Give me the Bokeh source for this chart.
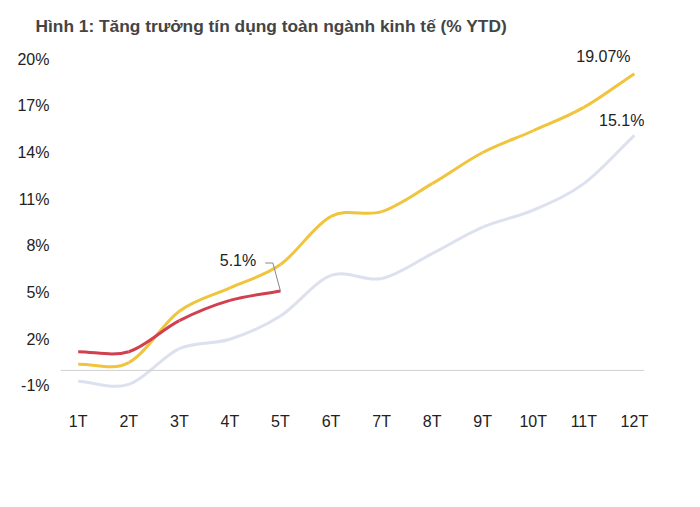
from bokeh.plotting import figure
from bokeh.models import Range1d, FixedTicker, Span, Legend, LegendItem, Label
from bokeh.embed import file_html
from bokeh.resources import INLINE

months = ["1T","2T","3T","4T","5T","6T","7T","8T","9T","10T","11T","12T"]
y2024 = [-0.7,-0.9,1.4,2.0,3.5,6.1,5.9,7.5,9.2,10.3,12.0,15.1]
y2025 = [0.4,0.5,3.8,5.3,6.8,9.9,10.2,12.0,14.0,15.4,16.9,19.07]
y2026 = [1.2,1.2,3.2,4.5,5.1]
yticks = [-1,2,5,8,11,14,17,20]
FONT = "Liberation Sans"

def bez(xs, ys):
    n = len(xs); m = [0.0]*n
    for i in range(n):
        if i == 0: m[i] = ys[1]-ys[0]
        elif i == n-1: m[i] = ys[-1]-ys[-2]
        else: m[i] = (ys[i+1]-ys[i-1])/2
    out = dict(x0=[],y0=[],x1=[],y1=[],cx0=[],cy0=[],cx1=[],cy1=[])
    for i in range(n-1):
        out["x0"].append(xs[i]); out["y0"].append(ys[i])
        out["x1"].append(xs[i+1]); out["y1"].append(ys[i+1])
        out["cx0"].append(xs[i]+1/3); out["cy0"].append(ys[i]+m[i]/3)
        out["cx1"].append(xs[i+1]-1/3); out["cy1"].append(ys[i+1]-m[i+1]/3)
    return out

p = figure(width=684, height=491, output_backend="svg", toolbar_location=None,
           x_range=Range1d(0.65, 12.2), y_range=Range1d(-2.0, 21.2),
           min_border_left=60, min_border_right=40, min_border_top=40, min_border_bottom=90,
           title="Hình 1: Tăng trưởng tín dụng toàn ngành kinh tế (% YTD)")
p.title.text_font = FONT
p.title.text_font_size = "13pt"
p.title.text_font_style = "bold"
p.title.offset = -25
p.outline_line_color = None
p.grid.visible = False
p.xaxis.ticker = FixedTicker(ticks=list(range(1,13)))
p.xaxis.major_label_overrides = {i+1: m for i, m in enumerate(months)}
p.yaxis.ticker = FixedTicker(ticks=yticks)
p.yaxis.major_label_overrides = {t: f"{t}%" for t in yticks}
for ax in (p.xaxis, p.yaxis):
    ax.axis_line_color = None
    ax.major_tick_line_color = None
    ax.minor_tick_line_color = None
    ax.major_label_text_font = FONT
    ax.major_label_text_font_size = "12pt"
    ax.major_label_text_color = "#222222"
p.add_layout(Span(location=0, dimension="width", line_color="#d0d0d0", line_width=1))

xs = list(range(1,13))
r24 = p.bezier(source=bez(xs, y2024), line_color="#dde0ef", line_width=3)
r25 = p.bezier(source=bez(xs, y2025), line_color="#f0c43c", line_width=3)
r26 = p.bezier(source=bez(xs[:5], y2026), line_color="#d0404f", line_width=3)

p.line([5, 4.85, 4.7], [5.1, 6.9, 6.9], line_color="#888888", line_width=1)
for txt, x, y in [("5.1%", 3.8, 6.5), ("19.07%", 10.85, 19.6), ("15.1%", 11.3, 15.5)]:
    p.add_layout(Label(x=x, y=y, text=txt, text_font=FONT, text_font_size="12pt", text_color="#222222"))

leg = Legend(items=[LegendItem(label="2024", renderers=[r24]),
                    LegendItem(label="2025", renderers=[r25]),
                    LegendItem(label="2026", renderers=[r26])],
             orientation="horizontal", location=(90, -75), border_line_color=None,
             background_fill_alpha=0, label_text_font=FONT, label_text_font_size="12pt",
             glyph_width=60, spacing=30)
p.add_layout(leg, "center")
p.add_layout(Label(x=624, y=-103, x_units="screen", y_units="screen", text="Nguồn: NHNN, MBS Research",
                   text_align="right", text_font=FONT, text_font_size="12pt", text_color="#222222"))

open("out.html", "w").write(file_html(p, INLINE))
